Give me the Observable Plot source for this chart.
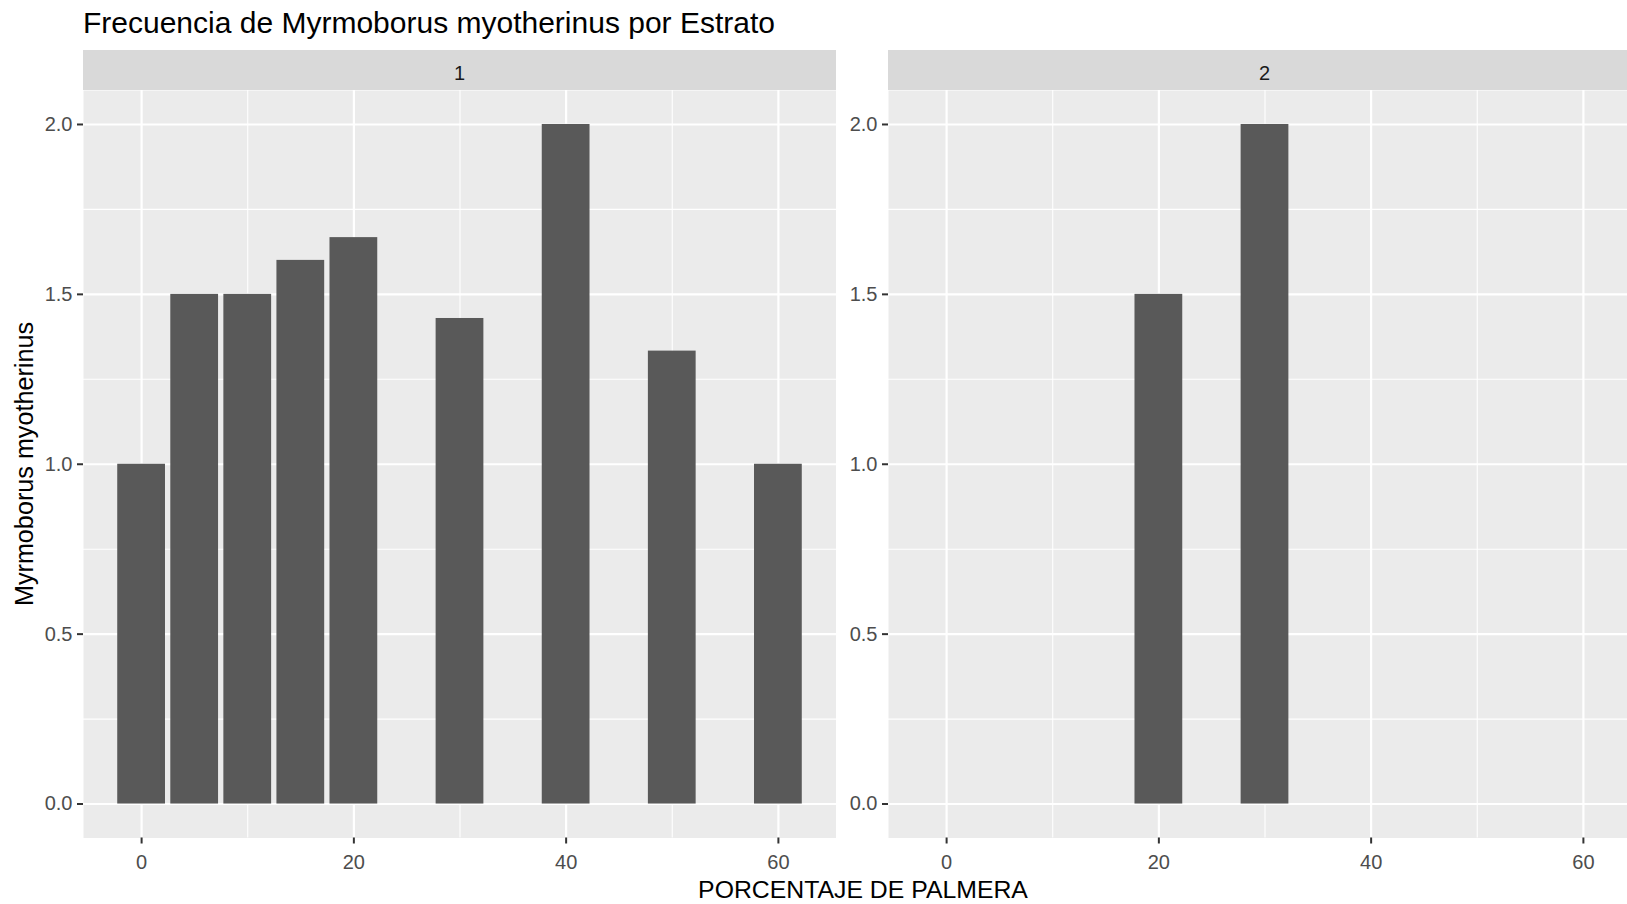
<!DOCTYPE html>
<html><head><meta charset="utf-8">
<script src="https://cdn.jsdelivr.net/npm/d3@7"></script>
<script src="https://cdn.jsdelivr.net/npm/@observablehq/plot@0.6"></script>
<style>
html,body{margin:0;padding:0;background:#fff;overflow:hidden;width:1627px;height:904px;}
#root{position:relative;width:1627px;height:904px;font-family:"Liberation Sans",Arial,sans-serif;overflow:hidden;}
#root > svg{position:absolute;top:0;}
</style></head><body><div id="root"></div>
<script>
// Data
const estratos = ["1", "2"];
const palmera1 = [0, 5, 10, 15, 20, 30, 40, 50, 60];
const frecuencia1 = [1.0, 1.5, 1.5, 1.6, 1.667, 1.429, 2.0, 1.333, 1.0];
const palmera2 = [20, 30];
const frecuencia2 = [1.5, 2.0];
const xTicks = [0, 20, 40, 60];
const xMinor = [10, 30, 50];
const yTicks = [0, 0.5, 1.0, 1.5, 2.0];
const yMinor = [0.25, 0.75, 1.25, 1.75];
const titulo = "Frecuencia de Myrmoborus myotherinus por Estrato";
const xTitulo = "PORCENTAJE DE PALMERA";
const yTitulo = "Myrmoborus myotherinus";

const FONT = "'Liberation Sans', Arial, sans-serif";
const root = document.getElementById("root");
const H = 904, PANEL_TOP = 90, PANEL_BOTTOM = 837.5, BAR_HALF = 2.25;

function panel(xs, ys, left, width, marginLeft) {
  const data = xs.map((x, i) => ({x, y: ys[i]}));
  const svg = Plot.plot({
    width, height: H,
    marginTop: PANEL_TOP, marginBottom: H - PANEL_BOTTOM, marginLeft, marginRight: 0,
    style: {fontFamily: FONT, background: "transparent", fontSize: "20px"},
    x: {domain: [-5.475, 65.475]},
    y: {domain: [-0.1, 2.1]},
    marks: [
      Plot.frame({fill: "#EBEBEB", stroke: "none"}),
      Plot.gridX(xMinor, {stroke: "#FFFFFF", strokeOpacity: 1, strokeWidth: 1.1}),
      Plot.gridY(yMinor, {stroke: "#FFFFFF", strokeOpacity: 1, strokeWidth: 1.1}),
      Plot.gridX(xTicks, {stroke: "#FFFFFF", strokeOpacity: 1, strokeWidth: 2.2}),
      Plot.gridY(yTicks, {stroke: "#FFFFFF", strokeOpacity: 1, strokeWidth: 2.2}),
      Plot.rect(data, {x1: d => d.x - BAR_HALF, x2: d => d.x + BAR_HALF, y1: d => 0, y2: "y", fill: "#595959", inset: 0}),
      Plot.axisX(xTicks, {tickSize: 6, tickPadding: 11, fontSize: 20, fill: "#4D4D4D", stroke: "#333333", strokeWidth: 2, label: null, tickFormat: d3.format("d")}),
      Plot.axisY(yTicks, {tickSize: 6, tickPadding: 5, fontSize: 20, fill: "#4D4D4D", stroke: "#333333", strokeWidth: 2, label: null, tickFormat: d3.format(".1f")})
    ]
  });
  svg.style.left = left + "px";
  root.appendChild(svg);
}

panel(palmera1, frecuencia1, 0, 836, 83);
panel(palmera2, frecuencia2, 836, 805, 52);

// Overlay: title, strips, axis titles
const ov = d3.select(root).append("svg")
  .attr("width", 1627).attr("height", H)
  .style("left", "0px").style("font-family", FONT);

ov.append("text").attr("x", 83).attr("y", 32.5).attr("font-size", 30).attr("fill", "#000").text(titulo);

const strips = [{x0: 83, x1: 836}, {x0: 888, x1: 1641}];
strips.forEach((s, i) => {
  ov.append("rect").attr("x", s.x0).attr("y", 50).attr("width", s.x1 - s.x0).attr("height", PANEL_TOP - 50).attr("fill", "#D9D9D9");
  ov.append("text").attr("x", (s.x0 + s.x1) / 2).attr("y", 80).attr("text-anchor", "middle")
    .attr("font-size", 20).attr("fill", "#1A1A1A").text(estratos[i]);
});

ov.append("text").attr("x", 863).attr("y", 898).attr("text-anchor", "middle")
  .attr("font-size", 24.8).attr("fill", "#000").text(xTitulo);

ov.append("text").attr("transform", "translate(33,464) rotate(-90)").attr("text-anchor", "middle")
  .attr("font-size", 25.2).attr("fill", "#000").text(yTitulo);
</script>
</body></html>
